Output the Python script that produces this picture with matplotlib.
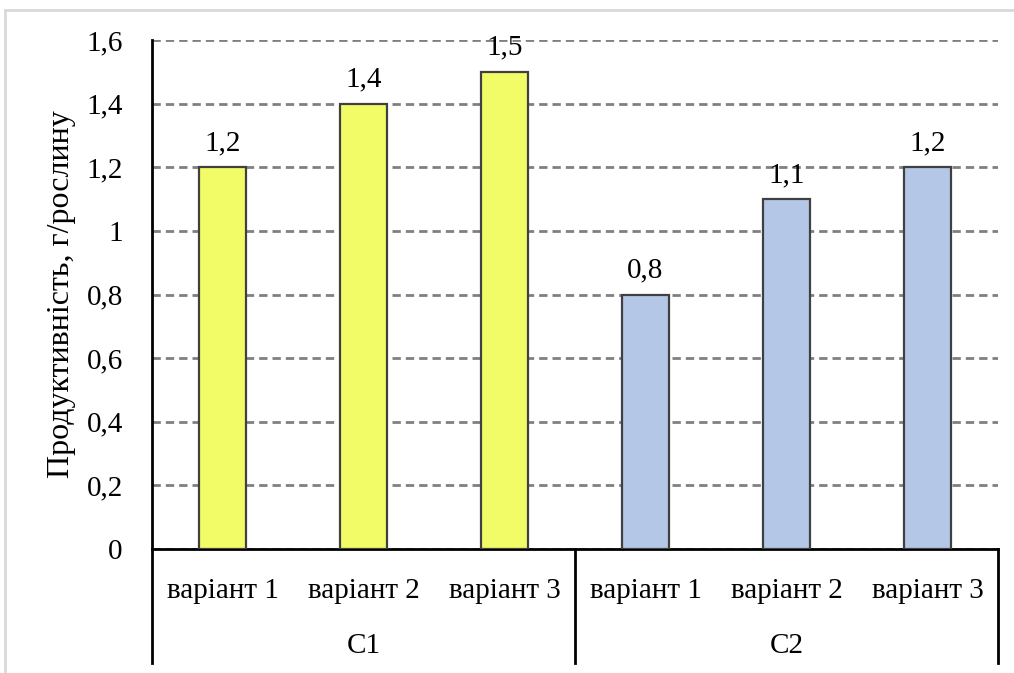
import matplotlib
matplotlib.use('Agg')
import matplotlib.pyplot as plt
from matplotlib.lines import Line2D

plt.rcParams['font.family'] = ['Liberation Serif', 'DejaVu Serif']

variants = ['варіант 1', 'варіант 2', 'варіант 3', 'варіант 1', 'варіант 2', 'варіант 3']
groups = ['C1', 'C2']
values = [1.2, 1.4, 1.5, 0.8, 1.1, 1.2]
yticks = [0, 0.2, 0.4, 0.6, 0.8, 1.0, 1.2, 1.4, 1.6]

W, H = 1014, 673
FS = 21
fig = plt.figure(figsize=(W / 100, H / 100), dpi=100)

# light page frame round the chart
fig.add_artist(Line2D([5 / W, 5 / W], [0, 1 - 10 / H], color='#d9d9d9', lw=2))
fig.add_artist(Line2D([5 / W, 1], [1 - 10 / H, 1 - 10 / H], color='#d9d9d9', lw=2))

left, right, top, bottom = 152, 998, 40, 549
ax = fig.add_axes([left / W, 1 - bottom / H, (right - left) / W, (bottom - top) / H])

colors = ['#f2fc66'] * 3 + ['#b4c7e7'] * 3
x = list(range(len(values)))
ax.bar(x, values, width=0.33, color=colors, edgecolor='#404040', linewidth=1.6, zorder=3)

for xi, v in zip(x, values):
    ax.annotate(('%.1f' % v).replace('.', ','), (xi, v), xytext=(0, 8), textcoords='offset points',
                ha='center', va='bottom', fontsize=FS, zorder=4)

ax.set_xlim(-0.5, 5.5)
ax.set_ylim(0, 1.6)
ax.set_yticks(yticks)
ax.set_yticklabels([('%g' % t).replace('.', ',') for t in yticks], fontsize=FS)
ax.tick_params(axis='y', length=0, pad=21)
ax.set_xticks([])
ax.yaxis.grid(True, color='#808080', ls=(0, (3, 1.8)), lw=2, zorder=0)

for s in ['top', 'right']:
    ax.spines[s].set_visible(False)
ax.spines['left'].set_linewidth(2)
ax.spines['bottom'].set_linewidth(2)

ax.set_ylabel('Продуктивність, г/рослину', fontsize=23)
ax.yaxis.set_label_coords(-0.09, 0.5)

# two-level category axis under the bars
ah = bottom - top
for xi, name in zip(x, variants):
    ax.text(xi, -42 / ah, name, ha='center', va='center', fontsize=FS, transform=ax.get_xaxis_transform())
for gi, g in enumerate(groups):
    ax.text(gi * 3 + 1, -97 / ah, g, ha='center', va='center', fontsize=FS, transform=ax.get_xaxis_transform())
for sx in [-0.5, 2.5, 5.5]:
    ax.add_line(Line2D([sx, sx], [0, -(663 - bottom) / ah], color='black', lw=2,
                       transform=ax.get_xaxis_transform(), clip_on=False))

fig.savefig('out.png', dpi=100)
